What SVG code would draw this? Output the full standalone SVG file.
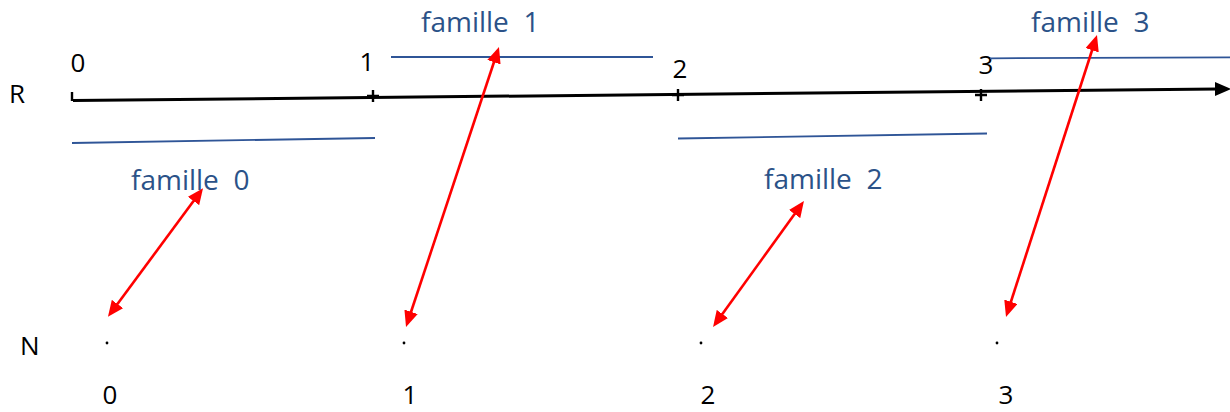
<svg xmlns="http://www.w3.org/2000/svg" width="1230" height="412" viewBox="0 0 1230 412">
<defs>
<style>
.lbl{font-family:"Open Sans","Liberation Sans",sans-serif;font-size:26px;fill:#000}
.fam{font-family:"Open Sans","Liberation Sans",sans-serif;font-size:28px;fill:#2B5288;white-space:pre}
.blue{stroke:#2F5597;stroke-width:1.8;fill:none}
.red{stroke:#FF0000;stroke-width:2.6;fill:none;marker-start:url(#rh);marker-end:url(#rh)}
.tick{stroke:#000;stroke-width:2.4;fill:none}
</style>
<marker id="rh" viewBox="0 0 16 14" markerWidth="16" markerHeight="14" refX="5" refY="7" markerUnits="userSpaceOnUse" orient="auto-start-reverse">
<path d="M0,0 L16,7 L0,14 z" fill="#FF0000"/>
</marker>
</defs>
<rect width="1230" height="412" fill="#fff"/>
<g id="axis-R">
<text class="lbl" x="9" y="103">R</text>
<line x1="73" y1="100.5" x2="1218" y2="89" stroke="#000" stroke-width="3"/>
<polygon points="1215,82 1231,89 1215,96" fill="#000"/>
<line class="tick" x1="72" y1="92" x2="72" y2="101"/>
<path class="tick" d="M367,96 H379 M373,90 V102"/>
<path class="tick" d="M672,95 H684 M678,89 V101"/>
<path class="tick" d="M975,95 H987 M981,89 V101"/>
<text class="lbl" x="78" y="72" text-anchor="middle">0</text>
<text class="lbl" x="367" y="71" text-anchor="middle">1</text>
<text class="lbl" x="680" y="78" text-anchor="middle">2</text>
<text class="lbl" x="986" y="74" text-anchor="middle">3</text>
</g>
<g id="famille0">
<line class="blue" x1="72" y1="143" x2="375" y2="138"/>
<text class="fam" x="131" y="190" xml:space="preserve">famille  0</text>
</g>
<g id="famille1">
<line class="blue" x1="391" y1="57" x2="653" y2="57"/>
<text class="fam" x="421" y="32" xml:space="preserve">famille  1</text>
</g>
<g id="famille2">
<line class="blue" x1="678" y1="138.5" x2="987" y2="133.5"/>
<text class="fam" x="764" y="189" xml:space="preserve">famille  2</text>
</g>
<g id="famille3">
<line class="blue" x1="990" y1="58.3" x2="1230" y2="57.3"/>
<text class="fam" x="1031" y="32" xml:space="preserve">famille  3</text>
</g>
<g id="axis-N">
<text class="lbl" x="20" y="355">N</text>
<circle cx="107" cy="343" r="1.4" fill="#000"/>
<circle cx="404" cy="343" r="1.4" fill="#000"/>
<circle cx="701" cy="343" r="1.4" fill="#000"/>
<circle cx="997" cy="343" r="1.4" fill="#000"/>
<text class="lbl" x="110" y="404" text-anchor="middle">0</text>
<text class="lbl" x="410" y="404" text-anchor="middle">1</text>
<text class="lbl" x="708" y="404" text-anchor="middle">2</text>
<text class="lbl" x="1006" y="404" text-anchor="middle">3</text>
</g>
<g id="connectors">
<line class="red" x1="114.5" y1="308" x2="196.5" y2="197"/>
<line class="red" x1="409.5" y1="316.5" x2="495.5" y2="57.5"/>
<line class="red" x1="719.5" y1="318" x2="797.5" y2="210"/>
<line class="red" x1="1009.4" y1="306.5" x2="1093.6" y2="45.5"/>
</g>
</svg>
